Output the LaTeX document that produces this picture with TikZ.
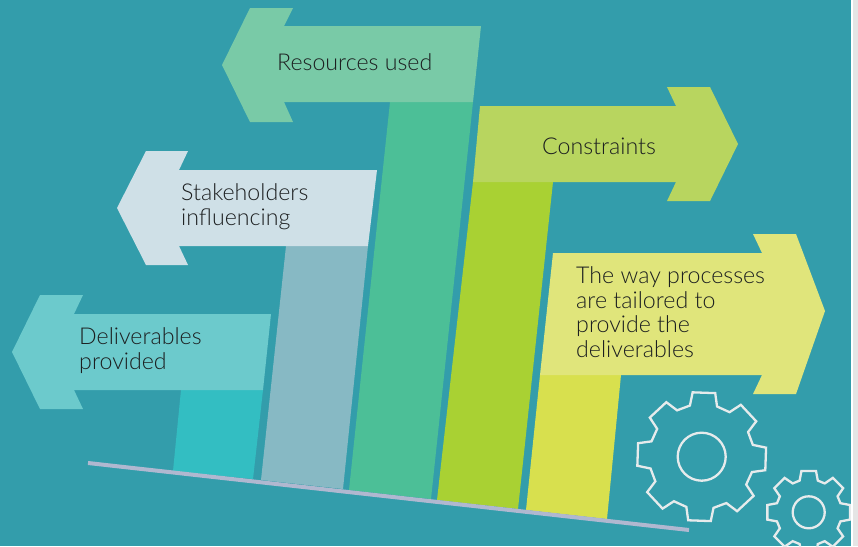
\documentclass[tikz,border=0pt]{standalone}
\usepackage{fontspec}
\setmainfont{Lato Light}
\usetikzlibrary{calc,positioning}

\definecolor{bgteal}{HTML}{339DAB}
\definecolor{tealarrow}{HTML}{6CCACC}
\definecolor{tealbar}{HTML}{33BEC2}
\definecolor{palearrow}{HTML}{CFE0E7}
\definecolor{palebar}{HTML}{87B9C4}
\definecolor{greenarrow}{HTML}{79CAA7}
\definecolor{greenbar}{HTML}{4CBF97}
\definecolor{limearrow}{HTML}{B8D55F}
\definecolor{limebar}{HTML}{A9D133}
\definecolor{yellowarrow}{HTML}{E0E57B}
\definecolor{yellowbar}{HTML}{D8E04E}
\definecolor{floorcolor}{HTML}{B0B8D0}
\definecolor{gearwhite}{HTML}{E6EBEC}
\definecolor{labelink}{HTML}{1C1F20}

\tikzset{
	label text/.style={align=left, anchor=west, inner sep=0pt, text=labelink, font=\fontsize{23.2}{24.7}\selectfont},
	gear line/.style={draw=gearwhite, line width=2.3pt, miter limit=4}
}

\begin{document}
\begin{tikzpicture}[x=1pt,y=-1pt]
\useasboundingbox (0,0) rectangle (858,546);
\clip (0,0) rectangle (858,546);
\fill[bgteal] (0,0) rectangle (858,546);

% bars
\fill[tealbar] (181,390) -- (263,390) -- (253,479) -- (173,471) -- cycle;
\fill[palebar] (286,246) -- (368,246) -- (343,489) -- (261,480) -- cycle;
\fill[greenbar] (390,102) -- (473,102) -- (431,499) -- (349,490) -- cycle;
\fill[limebar] (473,182) -- (553,182) -- (518,509) -- (437,500) -- cycle;
\fill[yellowbar] (540,375) -- (621,375) -- (607,519) -- (526,510) -- cycle;

% arrows
\fill[tealarrow] (12,352) -- (40,295) -- (83,295) -- (74,314) -- (271,314) -- (263,390) -- (74,390) -- (83,409) -- (40,409) -- cycle;
\fill[palearrow] (117,208) -- (146,151) -- (188,151) -- (179,170) -- (377,170) -- (368,246) -- (179,246) -- (188,265) -- (146,265) -- cycle;
\fill[greenarrow] (222,65) -- (250,8) -- (293,8) -- (284,26) -- (481,26) -- (473,102) -- (284,102) -- (293,122) -- (250,122) -- cycle;
\fill[limearrow] (480,106) -- (676,106) -- (667,87) -- (710,87) -- (738,144) -- (710,201) -- (667,201) -- (676,182) -- (473,182) -- cycle;
\fill[yellowarrow] (553,253) -- (762,253) -- (753,234) -- (796,234) -- (825,311) -- (796,394) -- (753,394) -- (762,375) -- (540,375) -- cycle;

% floor
\draw[floorcolor, line width=4pt] (88,463) -- (689,530);

% gears
\draw[gear line] (701.7,456.7) circle[radius=24];
\draw[gear line, shift={(701.7,456.7)}] (2-15:52.5) \foreach \a in {2,47,...,317} { -- ($(\a-15:52.5)$) -- ($(\a-10:65)$) -- ($(\a+10:65)$) -- ($(\a+15:52.5)$) } -- cycle;
\draw[gear line] (808.7,512.3) circle[radius=16];
\draw[gear line, shift={(808.7,512.3)}] (-16:33) \foreach \a in {0,45,...,315} { -- ($(\a-16:33)$) -- ($(\a-10:42)$) -- ($(\a+10:42)$) -- ($(\a+16:33)$) } -- cycle;

% labels
\node[label text] (resources) at (277,62) {Resources used};
\node[label text] (stakeholders) at (181,207) {Stakeholders\\influencing};
\node[label text] (constraints) at (542,146) {Constraints};
\node[label text] (tailored) at (576,312) {The way processes\\are tailored to\\provide the\\deliverables};
\node[label text] (deliverables) at (79,350.5) {Deliverables\\provided};

% page edge
\fill[white] (851,0) rectangle (853,546);
\fill[gray!20] (853,0) rectangle (858,546);
\end{tikzpicture}
\end{document}
